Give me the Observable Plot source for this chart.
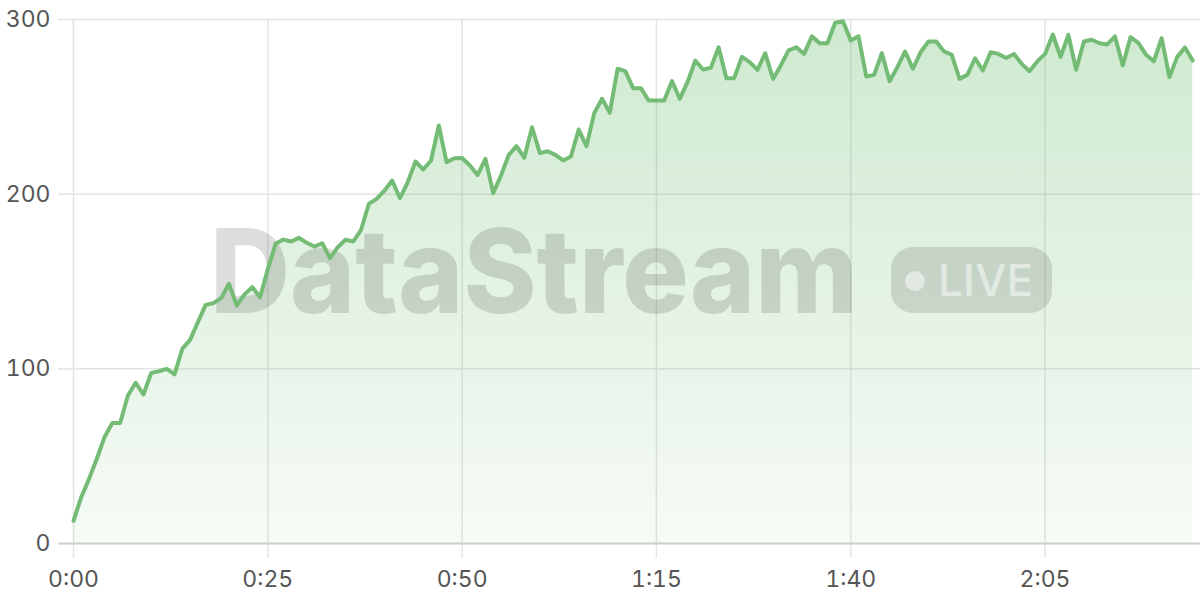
<!DOCTYPE html>
<html>
<head>
<meta charset="utf-8">
<script src="https://cdn.jsdelivr.net/npm/d3@7"></script>
<script src="https://cdn.jsdelivr.net/npm/@observablehq/plot@0.6"></script>
<style>
  html, body { margin: 0; padding: 0; background: #fff; }
  #chart { width: 1200px; height: 600px; }
</style>
</head>
<body>
<div id="chart"></div>
<script>
// one sample per second, starting at 0:00
const values = [
  13, 26.5, 37, 48.5, 61, 69, 69, 84.7, 92, 85.3,
  97.7, 98.6, 100, 96.8, 111.5, 116.6, 126.7, 136.6, 137.6, 140.5,
  148.7, 136.3, 142.6, 146.8, 141, 157, 171.6, 174, 172.9, 175,
  172.2, 170, 171.9, 163.4, 169.7, 173.9, 172.9, 179.6, 194.5, 197.3,
  202, 207.8, 197.7, 206.8, 218.7, 214.1, 219.3, 239.3, 218.3, 220.6,
  220.7, 216.4, 211, 220.2, 200.6, 210.7, 222.5, 227.5, 220.8, 238.3,
  223.5, 224.6, 222.5, 219.3, 221.6, 237, 227.5, 246.4, 254.6, 246.6,
  271.8, 270.4, 260.7, 260.7, 253.6, 253.6, 253.6, 264.7, 254.6, 264.1,
  276.5, 271.4, 272.3, 284.1, 266.4, 266.4, 278.6, 275.6, 271.2, 280.7,
  266, 273.7, 282.3, 284.1, 280.3, 290.4, 286.4, 286.4, 298.1, 299,
  288, 290.4, 267.4, 268.3, 280.7, 264.7, 272.7, 281.7, 271.8, 281.3,
  287.4, 287.4, 281.7, 279.8, 266, 268.3, 277.8, 270.8, 281.3, 280.3,
  278, 280.3, 274.6, 270.4, 276, 280.3, 291.4, 278.6, 291.2, 271.2,
  287.4, 288.4, 286.4, 285.7, 290.3, 273.7, 289.9, 286.6, 279.8, 276.1,
  289.3, 267, 278.6, 284, 276.5
];
const xTicks = [0, 25, 50, 75, 100, 125];
const yTicks = [0, 100, 200, 300];
const xDomain = [0, 145];
const yDomain = [0, 300];
const watermarkText = "DataStream";
const badgeText = "LIVE";

const data = values.map((v, i) => ({t: i, v}));
const fmt = s => `${Math.floor(s / 60)}:${String(s % 60).padStart(2, "0")}`;

const green = "#74bc75";
const font = "Inter, 'Noto Sans', sans-serif";

const defs = () => {
  const g = d3.create("svg:defs");
  const lg = g.append("linearGradient")
    .attr("id", "areaGrad").attr("x1", 0).attr("y1", 0).attr("x2", 0).attr("y2", 1);
  lg.append("stop").attr("offset", "0%").attr("stop-color", "#4caf50").attr("stop-opacity", 0.27);
  lg.append("stop").attr("offset", "100%").attr("stop-color", "#4caf50").attr("stop-opacity", 0.05);
  return g.node();
};

const watermark = () => {
  const g = d3.create("svg:g").attr("pointer-events", "none").attr("text-anchor", "start");
  g.append("text")
    .attr("x", 210).attr("y", 313)
    .attr("text-anchor", "start")
    .attr("font-family", font).attr("font-weight", 800).attr("font-size", 117)
    .attr("textLength", 648).attr("lengthAdjust", "spacingAndGlyphs")
    .attr("fill", "rgba(0,0,0,0.135)")
    .text(watermarkText);
  g.append("rect")
    .attr("x", 891).attr("y", 247).attr("width", 161).attr("height", 66).attr("rx", 22)
    .attr("fill", "rgba(0,0,0,0.12)");
  g.append("circle")
    .attr("cx", 915).attr("cy", 281).attr("r", 10)
    .attr("fill", "rgba(255,255,255,0.5)");
  g.append("text")
    .attr("x", 938).attr("y", 296)
    .attr("text-anchor", "start")
    .attr("font-family", font).attr("font-weight", 500).attr("font-size", 44)
    .attr("textLength", 95).attr("lengthAdjust", "spacing")
    .attr("fill", "rgba(255,255,255,0.5)")
    .text(badgeText);
  return g.node();
};

const chart = Plot.plot({
  width: 1200,
  height: 600,
  marginLeft: 73,
  marginRight: 0,
  marginTop: 19,
  marginBottom: 57,
  style: {fontFamily: font, fontSize: "23px", color: "#555", background: "#fff"},
  x: {domain: xDomain},
  y: {domain: yDomain},
  marks: [
    defs,
    Plot.gridX(xTicks, {stroke: "#e4e4e4", strokeOpacity: 1, strokeWidth: 1.5}),
    Plot.gridY(yTicks, {stroke: "#e4e4e4", strokeOpacity: 1, strokeWidth: 1.5}),
    Plot.axisX(xTicks, {tickSize: 15, tickPadding: 12, tickFormat: fmt, stroke: "#e4e4e4", strokeWidth: 1.5, label: null, fill: "#555"}),
    Plot.axisY(yTicks, {tickSize: 15, tickPadding: 8, stroke: "#e4e4e4", strokeWidth: 1.5, label: null, fill: "#555"}),
    Plot.areaY(data, {x: "t", y: "v", fill: "url(#areaGrad)"}),
    Plot.axisY([0], {tickSize: 15, text: null, stroke: "#cfcfcf", strokeWidth: 2, label: null}),
    Plot.ruleY([0], {stroke: "#cfcfcf", strokeWidth: 2}),
    watermark,
    Plot.lineY(data, {x: "t", y: "v", stroke: green, strokeWidth: 4, strokeLinejoin: "round", strokeLinecap: "round"})
  ]
});
document.getElementById("chart").appendChild(chart);
</script>
</body>
</html>
